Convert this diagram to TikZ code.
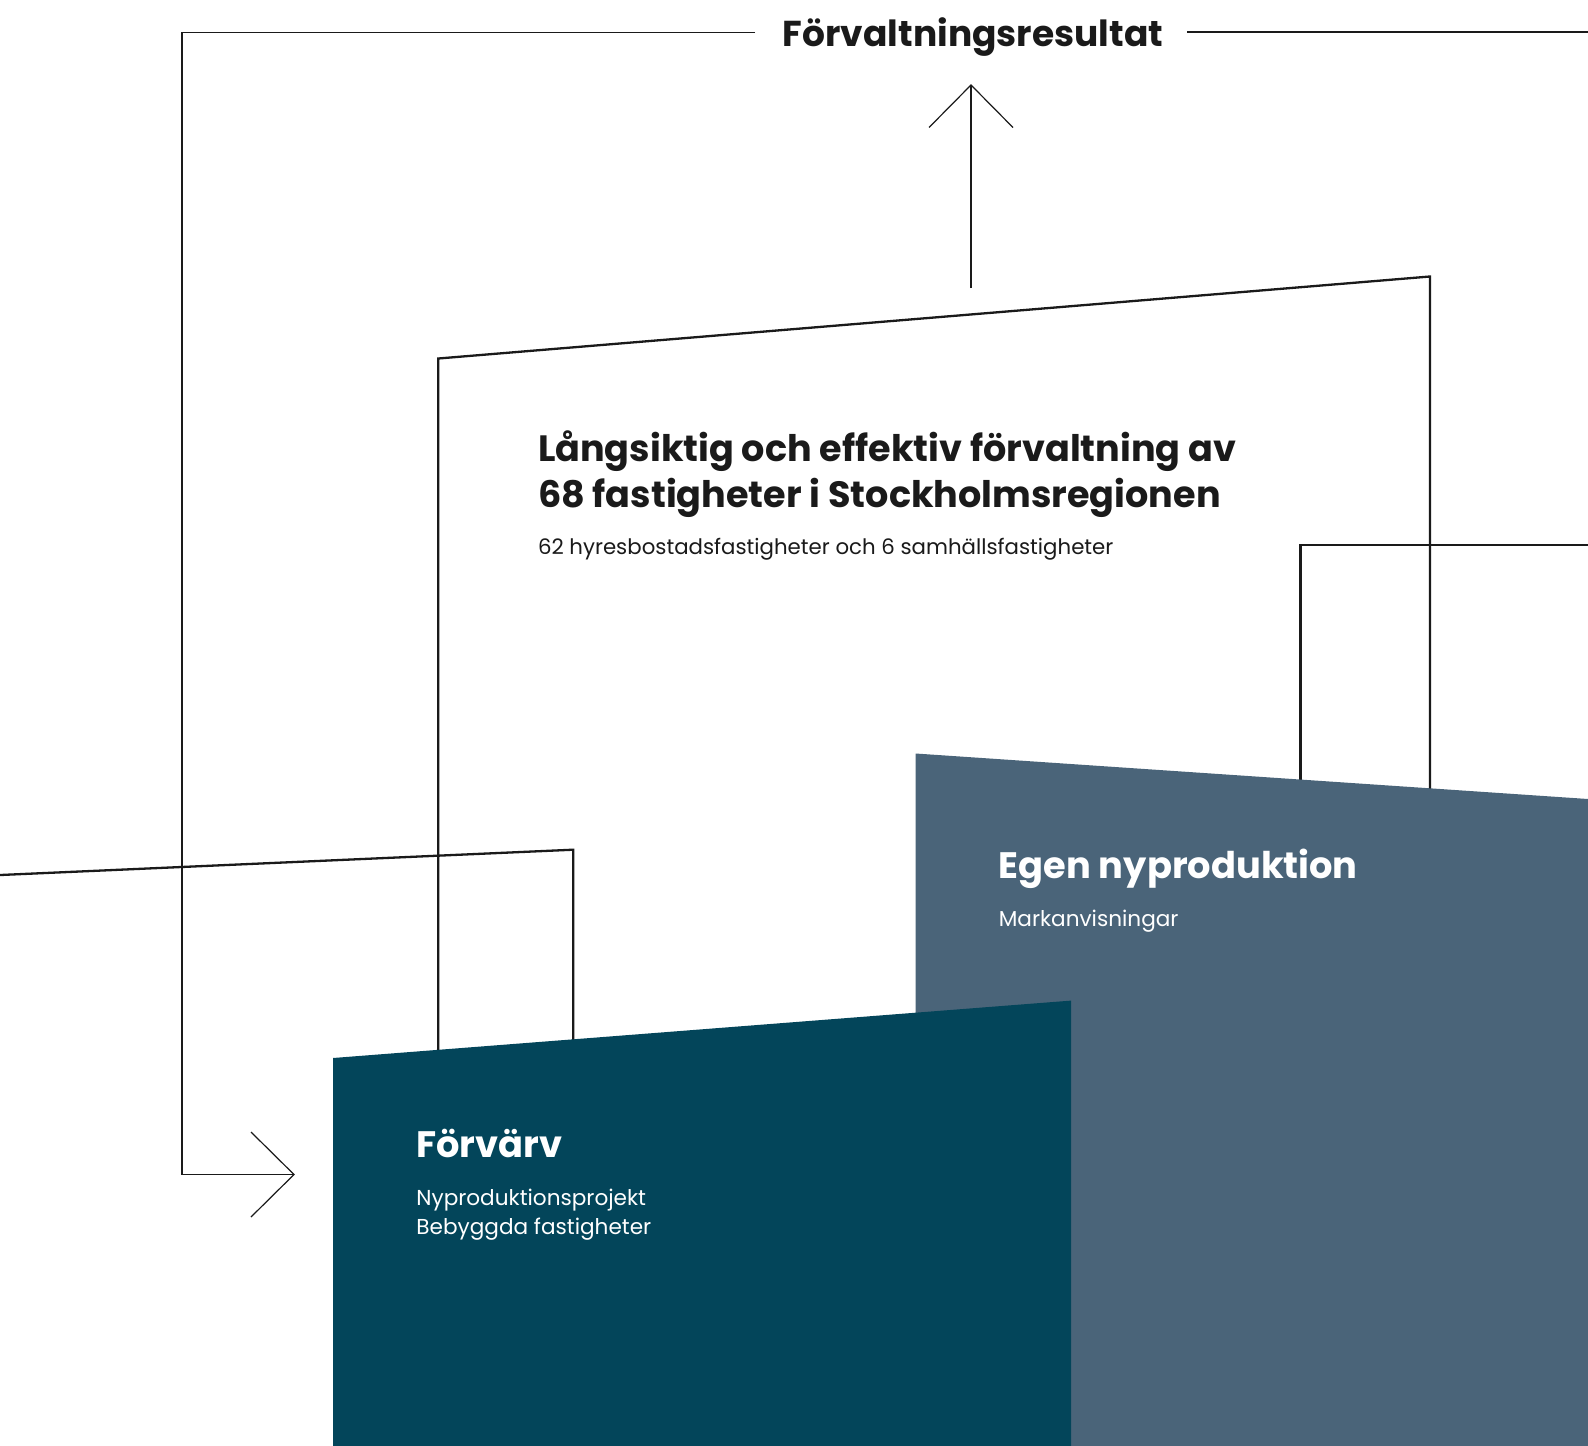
\documentclass[tikz,border=0pt]{standalone}
\usepackage{fontspec}
\setmainfont{Poppins}
\definecolor{ink}{HTML}{1A1A1A}
\definecolor{egenfill}{HTML}{4A6479}
\definecolor{forvfill}{HTML}{03455A}
\begin{document}
\begin{tikzpicture}[x=1pt,y=-1pt,
  thinline/.style={draw=ink,line width=1.2pt},
  thickline/.style={draw=ink,line width=2.3pt,line join=miter},
  headtxt/.style={inner sep=0pt,anchor=base west,text=ink,font=\fontsize{36.6}{44}\selectfont\bfseries},
  subtxt/.style={inner sep=0pt,anchor=base west,text=ink,font=\fontsize{21.3}{24}\selectfont},
  boxhead/.style={inner sep=0pt,anchor=base west,text=white,font=\fontsize{36.8}{42}\selectfont\bfseries},
  boxsub/.style={inner sep=0pt,anchor=base west,text=white,font=\fontsize{21.6}{24}\selectfont}]
\useasboundingbox (0,0) rectangle (1588,1446);
\fill[white] (0,0) rectangle (1588,1446);

% coordinates
\coordinate (tlL) at (182,32.4);
\coordinate (tlLend) at (755,32.4);
\coordinate (trStart) at (1187,32);
\coordinate (trEnd) at (1588,32);
\coordinate (loopBot) at (182,1174.5);
\coordinate (loopTip) at (294,1174.5);
\coordinate (loopA) at (251,1132);
\coordinate (loopB) at (251,1217);
\coordinate (upBase) at (971,288);
\coordinate (upTip) at (971,85);
\coordinate (upA) at (929,127.5);
\coordinate (upB) at (1013,127.5);

% outline frames
\draw[thickline] (438.3,1070) -- (438.3,358.5) -- (1430,276.5) -- (1430,810);
\draw[thickline] (1300.4,800) -- (1300.4,545) -- (1590,545);
\draw[thickline] (-2,875.1) -- (573.2,849.7) -- (573.2,1060);

% thin connectors
\draw[thinline] (tlLend) -- (tlL) -- (loopBot) -- (loopTip);
\draw[thinline] (loopA) -- (loopTip) -- (loopB);
\draw[thinline] (trStart) -- (trEnd);
\draw[thinline] (upBase) -- (upTip);
\draw[thinline] (upA) -- (upTip) -- (upB);

% filled blocks
\fill[egenfill] (915.6,753.5) -- (1588,799) -- (1588,1446) -- (915.6,1446) -- cycle;
\fill[forvfill] (333,1058) -- (1071,1000.6) -- (1071,1446) -- (333,1446) -- cycle;

% texts
\node[inner sep=0pt,anchor=base,text=ink,font=\fontsize{36}{42}\selectfont\bfseries] (result) at (973,46) {Förvaltningsresultat};
\node[headtxt] (titleA) at (537.8,461) {Långsiktig och effektiv förvaltning av};
\node[headtxt] (titleB) at (537.8,507) {68 fastigheter i Stockholmsregionen};
\node[subtxt] (titleSub) at (537.8,554) {62 hyresbostadsfastigheter och 6 samhällsfastigheter};
\node[boxhead] (egen) at (998.6,878) {Egen nyproduktion};
\node[boxsub] (egenSub) at (998.6,926) {Markanvisningar};
\node[boxhead] (forv) at (416.2,1157.6) {Förvärv};
\node[boxsub] (forvSubA) at (416.2,1205) {Nyproduktionsprojekt};
\node[boxsub] (forvSubB) at (416.2,1234.6) {Bebyggda fastigheter};
\end{tikzpicture}
\end{document}
